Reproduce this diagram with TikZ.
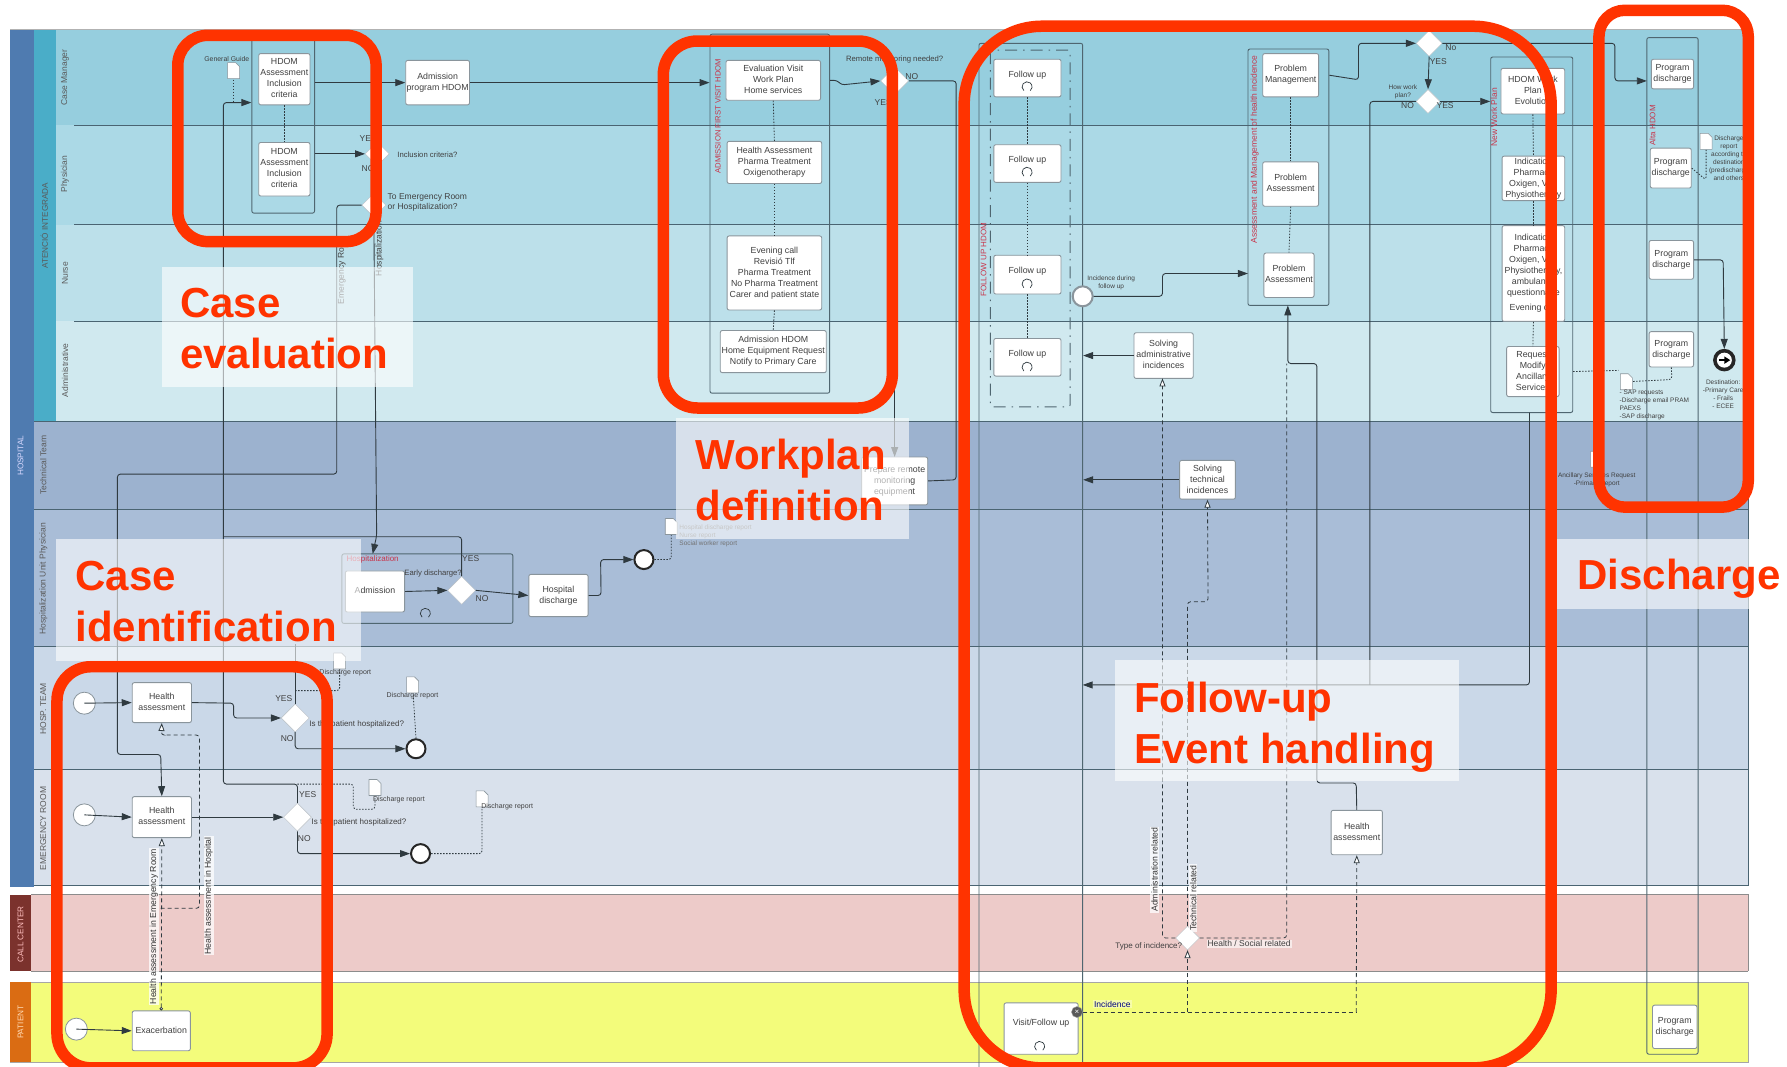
\documentclass[tikz,border=0pt]{standalone}
\usepackage{fontspec}
\setmainfont{Liberation Sans}
\usetikzlibrary{arrows.meta,shapes.geometric,fit,calc}
\definecolor{redline}{HTML}{FF3300}
\definecolor{inkline}{HTML}{2F3A40}
\definecolor{lanerule}{HTML}{4A6472}
\definecolor{boxrule}{HTML}{8A959C}
\definecolor{subrule}{HTML}{4F6670}
\definecolor{redlabel}{HTML}{C8344A}
\definecolor{laneA}{HTML}{96CEDE}
\definecolor{laneB}{HTML}{ABD9E6}
\definecolor{laneC}{HTML}{BCE0EA}
\definecolor{laneD}{HTML}{D0E9EF}
\definecolor{laneE}{HTML}{9CB2CF}
\definecolor{laneF}{HTML}{A9BDD7}
\definecolor{laneG}{HTML}{CAD8E8}
\definecolor{laneH}{HTML}{D9E1EC}
\definecolor{laneI}{HTML}{EDCBC9}
\definecolor{laneJ}{HTML}{F3FC7B}
\definecolor{colBlue}{HTML}{4F7BB0}
\definecolor{colTeal}{HTML}{4AADC8}
\definecolor{colBrown}{HTML}{7B322D}
\definecolor{colOrange}{HTML}{DA6C13}
\newcommand{\bt}[1]{\hbox to 0pt{\hss\begin{tabular}{@{}c@{}}#1\end{tabular}\hss}}
\newcommand{\tasknode}[6]{%
  \pgfmathsetmacro\tcx{(#2+#4)/2}\pgfmathsetmacro\tcy{(#3+#5)/2}%
  \pgfmathsetmacro\tww{(#4-#2)*1.13967}\pgfmathsetmacro\thh{(#5-#3)*1.13967}%
  \node[task,minimum width=\tww pt,minimum height=\thh pt] (#1) at (\tcx,\tcy) {\bt{#6}};}
\newcommand{\docicon}[1]{%
  \draw[boxrule,fill=white,line width=.6pt,line join=round]
    ([shift={(-6pt,-8pt)}]#1) -- ([shift={(-6pt,8pt)}]#1) -- ([shift={(2pt,8pt)}]#1)
    -- ([shift={(6pt,4pt)}]#1) -- ([shift={(6pt,-8pt)}]#1) -- cycle;}
\newcommand{\loopmark}[2]{%
  \draw[inkline,line width=.7pt] ([shift={(-3pt,-4pt)}]#1,#2) arc[start angle=230,end angle=-50,radius=5pt];}
\tikzset{
  task/.style={draw=boxrule,fill=white,rounded corners=2pt,line width=.9pt,inner sep=0pt,
    font=\fontsize{8.8}{11}\selectfont,text=black!75},
  subproc/.style={draw=subrule,rounded corners=2pt,line width=.9pt},
  gate/.style={diamond,fill=white,draw=boxrule!60,inner sep=0pt,minimum width=#1,minimum height=#1},
  gate/.default=28pt,
  evstart/.style={circle,fill=white,draw=boxrule,line width=.8pt,minimum size=22pt,inner sep=0pt},
  evend/.style={circle,fill=white,draw=black!85,line width=2pt,minimum size=19pt,inner sep=0pt},
  evmid/.style={circle,fill=white,draw=boxrule,line width=2pt,minimum size=20pt,inner sep=0pt},
  flow/.style={draw=inkline,line width=.9pt,rounded corners=3pt,-{Triangle[length=10pt,width=7pt]}},
  plainflow/.style={draw=inkline,line width=.9pt,rounded corners=3pt},
  msg/.style={draw=inkline,line width=.8pt,dash pattern=on 4pt off 3pt,rounded corners=3pt},
  msgtip/.style={msg,-{Triangle[open,length=8pt,width=6pt,fill=white]}},
  assoc/.style={draw=inkline,line width=.8pt,dash pattern=on 1.5pt off 1.5pt,rounded corners=3pt},
  lbl/.style={font=\fontsize{8.5}{10}\selectfont,text=black!75,inner sep=0pt},
  tiny lbl/.style={font=\fontsize{6.5}{8}\selectfont,text=black!75,inner sep=0pt,align=center},
  note lbl/.style={font=\fontsize{7.7}{9}\selectfont,text=black!75,inner sep=0pt,align=center},
  lane lbl/.style={font=\fontsize{8.5}{9}\selectfont,text=black!65,rotate=90,inner sep=0pt},
  col lbl/.style={font=\fontsize{8.2}{9}\selectfont,rotate=90,inner sep=0pt},
  red lbl/.style={font=\fontsize{8.5}{10}\selectfont,text=redlabel,rotate=90,inner sep=0pt},
  vert tag/.style={font=\fontsize{8.7}{10}\selectfont,text=black!80,rotate=90,inner sep=1pt,fill=white,fill opacity=.75,text opacity=1},
  ring/.style={draw=redline,line width=11.5pt},
  veil/.style={fill=white,fill opacity=.6},
  phase/.style={font=\fontsize{42}{51}\selectfont\bfseries,text=redline,inner sep=0pt,align=left,anchor=west},
}
\begin{document}
\begin{tikzpicture}[x=1.13967pt,y=-1.13967pt]
\useasboundingbox (0,0) rectangle (1568,936);
\fill[white] (0,0) rectangle (1568,936);
% lanes
\fill[laneA] (9,26) rectangle (1534,110);
\fill[laneB] (9,110) rectangle (1534,197);
\fill[laneC] (9,197) rectangle (1534,282);
\fill[laneD] (9,282) rectangle (1534,370);
\fill[laneE] (9,370) rectangle (1534,447);
\fill[laneF] (9,447) rectangle (1534,567);
\fill[laneG] (9,567) rectangle (1534,675);
\fill[laneH] (9,675) rectangle (1534,777);
\fill[laneI] (9,785) rectangle (1534,852);
\fill[laneJ] (9,862) rectangle (1534,932);
\fill[colBlue] (9,26) rectangle (30,778);
\fill[colTeal] (30,26) rectangle (49,370);
\fill[colBrown] (9,785) rectangle (27,852);
\fill[colOrange] (9,862) rectangle (27,932);
\draw[black!30,line width=1pt] (9,26) -- (1534,26);
\foreach \yy in {110,197,282} \draw[lanerule,line width=1.1pt] (65,\yy) -- (1534,\yy);
\foreach \yy in {370,447,567,675,777} \draw[lanerule,line width=1.2pt] (30,\yy) -- (1534,\yy);
\draw[lanerule,line width=1pt] (1534,26) -- (1534,777);
\draw[black!45,line width=1pt] (27,852) -- (1534,852) (27,785) -- (1534,785) -- (1534,852);
\draw[black!35,line width=1pt] (27,862) -- (1534,862) -- (1534,932) -- (9,932);
\node[col lbl,text=white!85!blue] (lHosp) at (18,400) {HOSPITAL};
\node[col lbl,text=black!65] (lAtenc) at (39,198) {ATENCIÓ INTEGRADA};
\node[lane lbl] (lCM) at (57,68) {Case Manager};
\node[lane lbl] (lPh) at (57,153) {Physician};
\node[lane lbl] (lNu) at (57,240) {Nurse};
\node[lane lbl] (lAd) at (57,325) {Administrative};
\node[lane lbl] (lTT) at (38,408) {Technical Team};
\node[lane lbl] (lHU) at (38,508) {Hospitalization Unit Physician};
\node[lane lbl] (lHT) at (38,622) {HOSP.\ TEAM};
\node[lane lbl] (lER) at (38,727) {EMERGENCY ROOM};
\node[col lbl,text=white!75!red] (lCC) at (18,820) {CALL CENTER};
\node[col lbl,text=white!70!orange] (lPa) at (18,897) {PATIENT};
% sub-processes
\node[subproc,inner sep=0pt,fit={(221,30)(276,187)}] (subCase) {};
\node[subproc,inner sep=0pt,fit={(623,30)(728,345)}] (subWork) {};
\node[subproc,inner sep=0pt,fit={(859,38)(950,945)}] (subFollow) {};
\node[subproc,inner sep=0pt,fit={(1095,43)(1166,268)}] (subProb) {};
\node[subproc,inner sep=0pt,fit={(1308,50)(1380,362)}] (subNew) {};
\node[subproc,inner sep=0pt,fit={(1445,33)(1490,925)}] (subAlta) {};
\node[subproc,inner sep=0pt,fit={(300,486)(450,547)}] (subHosp) {};
\draw[subrule,line width=.9pt,dash pattern=on 12pt off 6pt on 1.5pt off 6pt,rounded corners=2pt] (869,44) rectangle (939,357);
\node[red lbl,font=\fontsize{7.7}{9}\selectfont] (tCaseW) at (630,102) {ADMISSION FIRST VISIT HDOM};
\node[red lbl,font=\fontsize{8}{9}\selectfont] (tFol) at (863,228) {FOLLOW UP HDOM};
\node[red lbl] (tProb) at (1101,131) {Assessment and Management of health incidence};
\node[red lbl] (tNew) at (1311,103) {New Work Plan};
\node[red lbl,font=\fontsize{8}{9}\selectfont] (tAlta) at (1450,110) {Alta HDOM};
\node[font=\fontsize{8}{9}\selectfont,text=redlabel,inner sep=0pt] (tHosp) at (327,491) {Hospitalization};
% tasks
\tasknode{hdomA}{227}{47}{272}{92}{HDOM\\Assessment\\Inclusion\\criteria}
\tasknode{hdomB}{227}{125}{272}{172}{HDOM\\Assessment\\Inclusion\\criteria}
\tasknode{admProg}{356}{53}{412}{92}{Admission\\program HDOM}
\tasknode{evalV}{637}{53}{720}{88}{Evaluation Visit\\Work Plan\\Home services}
\tasknode{healthA}{638}{124}{721}{161}{Health Assessment\\Pharma Treatment\\Oxigenotherapy}
\tasknode{evening}{638}{207}{721}{272}{Evening call\\Revisió Tlf\\Pharma Treatment\\No Pharma Treatment\\Carer and patient state}
\tasknode{admH}{632}{290}{725}{327}{Admission HDOM\\Home Equipment Request\\Notify to Primary Care}
\tasknode{prep}{756}{401}{814}{443}{Prepare remote\\monitoring\\equipment}
\tasknode{admis}{303}{501}{355}{537}{Admission}
\tasknode{hospD}{464}{504}{516}{541}{Hospital\\discharge}
\tasknode{hHT}{116}{599}{168}{634}{Health\\assessment}
\tasknode{hER}{116}{699}{168}{735}{Health\\assessment}
\tasknode{exa}{116}{887}{167}{922}{Exacerbation}
\tasknode{fu1}{872}{52}{931}{85}{\raisebox{5pt}{Follow up}}
\tasknode{fu2}{872}{127}{931}{160}{\raisebox{5pt}{Follow up}}
\tasknode{fu3}{872}{224}{931}{258}{\raisebox{5pt}{Follow up}}
\tasknode{fu4}{872}{297}{931}{330}{\raisebox{5pt}{Follow up}}
\tasknode{visit}{881}{880}{946}{925}{\raisebox{9pt}{Visit/Follow up}}
\tasknode{solveA}{995}{292}{1047}{332}{Solving\\administrative\\incidences}
\tasknode{solveT}{1035}{404}{1084}{438}{Solving\\technical\\incidences}
\tasknode{pm}{1108}{47}{1157}{85}{Problem\\Management}
\tasknode{pa1}{1108}{142}{1157}{181}{Problem\\Assessment}
\tasknode{pa2}{1109}{222}{1153}{261}{Problem\\Assessment}
\tasknode{hAS}{1168}{711}{1213}{750}{Health\\assessment}
\tasknode{nw1}{1317}{60}{1373}{100}{HDOM Work\\Plan\\Evolution}
\tasknode{nw2}{1318}{137}{1373}{176}{Indication\\Pharmacy\\Oxigen, VMI\\Physiotherapy}
\tasknode{nw3}{1318}{198}{1373}{282}{Indication\\Pharmacy\\Oxigen, VMI\\Physiotherapy,\\ambulance\\questionnaire\\[4pt]Evening call}
\tasknode{nw4}{1322}{304}{1368}{348}{Request\\Modify\\Ancillary\\Services}
\tasknode{pd1}{1449}{52}{1486}{78}{Program\\discharge}
\tasknode{pd2}{1448}{130}{1484}{165}{Program\\discharge}
\tasknode{pd3}{1447}{211}{1486}{245}{Program\\discharge}
\tasknode{pd4}{1447}{291}{1486}{322}{Program\\discharge}
\tasknode{pd5}{1450}{882}{1489}{920}{Program\\discharge}
\loopmark{901}{76}\loopmark{901}{151}\loopmark{901}{249}\loopmark{901}{322}\loopmark{912}{918}\loopmark{373}{538}
% gates
\node[gate=24pt] (gInc1) at (331,135) {};
\node[gate=24pt] (gTo) at (328,180) {};
\node[gate] (gRem) at (785,71) {};
\node[gate] (gHD) at (405,518) {};
\node[gate] (gHT) at (259,630) {};
\node[gate] (gER) at (261,717) {};
\node[gate=26pt] (gNo) at (1254,38) {};
\node[gate=24pt] (gPlan) at (1253,89) {};
\node[gate=24pt] (gInc) at (1042,823) {};
% events
\node[evstart] (sHT) at (74,617) {};
\node[evstart] (sER) at (74,715) {};
\node[evstart] (sPa) at (67,903) {};
\node[evend] (eHT) at (365,657) {};
\node[evend] (eER) at (369,749) {};
\node[evend] (eHU) at (565,491) {};
\node[evmid] (mid) at (950,260) {};
\node[circle,fill=black!85,draw=black!85,line width=1.5pt,minimum size=21pt,inner sep=0pt] (eFin) at (1513,316) {};
\node[circle,fill=white,minimum size=15pt,inner sep=0pt] (eFinIn) at (eFin) {};
\draw[black,line width=2pt,-{Triangle[length=6pt,width=7pt]}] ([xshift=-5.5pt]eFin.center) -- ([xshift=6pt]eFin.center);
\node[circle,fill=black!65,draw=black!40,minimum size=11pt,inner sep=0pt,text=white,font=\fontsize{8}{8}\selectfont] (xv) at (945,888) {×};
% document positions
\coordinate (dGuide) at (205,62);
\coordinate (dHU) at (589,462);
\coordinate (dHT1) at (298,580);
\coordinate (dHT2) at (362,601);
\coordinate (dER1) at (329,691);
\coordinate (dER2) at (423,701);
\coordinate (dPd2) at (1497,124);
\coordinate (dPd4) at (1427,335);
\coordinate (dAnc) at (1401,403);
% sequence flows
\draw[flow] (subCase.east |- admProg) -- (admProg.west);
\draw[flow] (subCase.east |- gInc1) -- (gInc1.west);
\draw[flow] (admProg.east) -- (subWork.west |- admProg);
\draw[flow] (subWork.east |- evalV) -- ++(6,0) -- ++(4,4) -- (gRem.west);
\draw[plainflow] (gRem.east) -- (839,71) -- (839,421) -- (prep.east);
\draw[flow] (gRem.south) -- (785,401);
\draw[flow] (gER.north) -- (261,688) -- (196,688) -- (196,90) -- (subCase.west |- 0,90);
\draw[flow] (gTo.west) -- (295.5,180) -- (295.5,416) -- (103,416) -- (103,662) -- (141,662) -- (hER.north);
\draw[flow] (gTo.south) -- (330.5,470) -- (327,486);
\draw[plainflow] (196,471) -- (405,471) -- (gHD.north);
\draw[flow] (admis.east) -- (gHD.west);
\draw[flow] (gHD.east) -- (hospD.west);
\draw[flow] (hospD.east) -- ++(11,0) -- (527,491) -- (eHU.west);
\draw[flow] (sHT.center) -- (hHT.west);
\draw[flow] (hHT.east) -- (205,617) -- (205,630) -- (gHT.west);
\draw[plainflow] (gHT.north) -- (259,565);
\draw[flow] (gHT.south) -- (259,657) -- (eHT.west);
\draw[flow] (sER.center) -- (hER.west);
\draw[flow] (hER.east) -- (gER.west);
\draw[flow] (gER.south) -- (261,749) -- (eER.west);
\draw[flow] (sPa.center) -- (exa.west);
\draw[plainflow] (mid.east) -- (1020,260) -- (1020,240) -- (1040,240);
\draw[flow] (1040,240) -- (1095,240);
\draw[flow] (subProb.east |- pm) -- (1192,70) -- (1192,38) -- (gNo.west);
\draw[flow] (gNo.south) -- (gPlan.north);
\draw[flow] (gPlan.east) -- (subNew.west |- gPlan);
\draw[flow] (gNo.east) -- (1417,38) -- (1417,71) -- (1445,71);
\draw[flow] (solveA.west) -- (subFollow.east |- solveA);
\draw[flow] (solveT.west) -- (subFollow.east |- solveT);
\draw[flow] (1342,362) -- (1342,601) -- (950,601);
\draw[plainflow] (gPlan.west) -- (1202,89) -- (1202,601);
\draw[flow] (hAS.north) -- (1190,687) -- (1155.5,687) -- (1155.5,319) -- (1130,319) -- (1130,268);
\draw[flow] (pd3.east) -- (1512,228) -- (eFin.north);
% message flows
\draw[msg,{Circle[open,length=3.5pt,fill=white]}-{Triangle[open,length=8pt,width=6pt,fill=white]}] (exa.north) -- (hER.south);
\draw[msg] (141,797) -- (175,797) -- (175,645) -- (144,645);
\draw[msgtip] (144,645) -- (141.5,645) -- (hHT.south);
\draw[msg] (xv.east) -- (1190,888);
\draw[msgtip] (1190,888) -- (hAS.south);
\draw[msgtip] (1042,888) -- (gInc.south);
\draw[msgtip] (gInc.north) -- (1042,528) -- (1060,528) -- (solveT.south);
\draw[msgtip] (gInc.west) -- (1020,823) -- (1020,332);
\draw[msg] (gInc.east) -- (1129,823) -- (1129,319);
% associations
\foreach \aa/\bb in {evalV/healthA,healthA/evening,evening/admH,fu1/fu2,fu2/fu3,fu3/fu4,pm/pa1,pa1/pa2,nw1/nw2,nw2/nw3,nw3/nw4,hdomA/hdomB}
  \draw[assoc] (\aa.south) -- (\bb.north);
\draw[assoc] (dGuide) -- (205,90);
\draw[assoc] (eHU.east) -- (589,491) -- (dHU);
\draw[assoc] (259,606) -- (298,606) -- (dHT1);
\draw[assoc] (eHT.north) -- (dHT2);
\draw[assoc] (261,688) -- (310,688) -- (310,710) -- (329,710) -- (dER1);
\draw[assoc] (eER.east) -- (423,749) -- (dER2);
\draw[assoc] (pd2.east) -- (1497,158) -- (dPd2);
\draw[assoc] (pd4.south) -- (1467,333) -- (dPd4);
\draw[assoc] (subNew.east |- nw4) -- (1420,325);
% documents
\docicon{dGuide}\docicon{dHU}\docicon{dHT1}\docicon{dHT2}\docicon{dER1}\docicon{dER2}\docicon{dPd2}\docicon{dPd4}\docicon{dAnc}
% labels
\node[tiny lbl,font=\fontsize{6.9}{8}\selectfont] (lbGuide) at (199,52) {General Guide};
\node[note lbl] (lbInc) at (375,136) {Inclusion criteria?};
\node[lbl,align=left] (lbTo) at (375,178) {To Emergency Room\\or Hospitalization?};
\node[lbl] (lbY1) at (323,122) {YES};
\node[lbl] (lbN1) at (323,148) {NO};
\node[lbl,rotate=90] (lbEm) at (300,237) {Emergency Room};
\node[lbl,rotate=90] (lbHo) at (333,218) {Hospitalization};
\node[note lbl] (lbRem) at (785,52) {Remote monitoring needed?};
\node[lbl] (lbNo2) at (800,67) {NO};
\node[lbl] (lbYes2) at (775,90) {YES};
\node[tiny lbl] (lbInci) at (975,248) {Incidence during\\follow up};
\node[lbl] (lbNo3) at (1273,42) {No};
\node[lbl] (lbYes3) at (1262,54) {YES};
\node[tiny lbl] (lbHow) at (1231,81) {How work\\plan?};
\node[lbl] (lbNo4) at (1235,93) {NO};
\node[lbl] (lbYes4) at (1268,93) {YES};
\node[note lbl] (lbEarly) at (380,503) {Early discharge?};
\node[lbl] (lbYes5) at (413,490) {YES};
\node[lbl] (lbNo5) at (423,525) {NO};
\node[tiny lbl,align=left,anchor=west,text=black!55] (lbHU) at (596,470) {Hospital discharge report\\Nurse report\\Social worker report};
\node[tiny lbl,font=\fontsize{7}{8}\selectfont] (lbD1) at (303,590) {Discharge report};
\node[tiny lbl,font=\fontsize{7}{8}\selectfont] (lbD2) at (362,610) {Discharge report};
\node[tiny lbl,font=\fontsize{7}{8}\selectfont] (lbD3) at (350,702) {Discharge report};
\node[tiny lbl,font=\fontsize{7}{8}\selectfont] (lbD4) at (445,708) {Discharge report};
\node[lbl] (lbYes6) at (249,613) {YES};
\node[lbl] (lbNo6) at (252,648) {NO};
\node[lbl] (lbYes7) at (270,697) {YES};
\node[lbl] (lbNo7) at (267,736) {NO};
\node[note lbl,font=\fontsize{8}{9}\selectfont] (lbQ1) at (313,636) {Is the patient hospitalized?};
\node[note lbl,font=\fontsize{8}{9}\selectfont] (lbQ2) at (315,722) {Is the patient hospitalized?};
\node[vert tag] (lbEmer) at (135,813) {Health assessment in Emergency Room};
\node[vert tag] (lbHosp) at (183,786) {Health assessment in Hospital};
\node[vert tag] (lbAdmR) at (1013,763) {Administration related};
\node[vert tag] (lbTech) at (1047,788) {Technical related};
\node[note lbl,font=\fontsize{8}{9}\selectfont] (lbType) at (1008,830) {Type of incidence?};
\node[lbl,fill=white,fill opacity=.6,text opacity=1,inner sep=1pt] (lbHS) at (1096,828) {Health / Social related};
\node[lbl,fill=white,fill opacity=.35,text opacity=1,text=blue!50!black,inner sep=1pt] (lbIn) at (976,881) {Incidence};
\node[tiny lbl,align=center] (lbPd2) at (1517,139) {Discharge\\report\\according to\\destination\\(predischarge\\and others};
\node[tiny lbl,align=left,anchor=north west] (lbSap) at (1421,342) {- SAP requests\\-Discharge email PRAM\\PAEXS\\-SAP discharge};
\node[tiny lbl] (lbDest) at (1512,346) {Destination:\\-Primary Care\\- Frails\\- ECEE};
\node[tiny lbl] (lbAnc) at (1401,421) {Ancillary Services Request\\-Primary Report};
% phase frames
\draw[ring,rounded corners=30pt] (156,31) rectangle (330,212);
\draw[ring,rounded corners=34pt] (582,36) rectangle (783,358);
\draw[ring,rounded corners=78pt] (846,23) rectangle (1361,937);
\draw[ring,rounded corners=26pt] (1403,9) rectangle (1534,445);
\draw[ring,rounded corners=34pt] (50,585) rectangle (287,937);
% veils and phase names
\fill[veil] (142,234) rectangle (362,340);
\fill[veil] (593,367) rectangle (798,473);
\fill[veil] (49,473) rectangle (317,580);
\fill[veil] (1366,473) rectangle (1535,534);
\fill[veil] (978,579) rectangle (1280,685);
\node[phase] (pCase) at (158,288) {Case\\evaluation};
\node[phase] (pWork) at (610,421) {Workplan\\definition};
\node[phase] (pIdent) at (66,528) {Case\\identification};
\node[phase] (pDis) at (1384,508) {Discharge};
\node[phase] (pFol) at (995,638) {Follow-up\\Event handling};
\end{tikzpicture}
\end{document}
